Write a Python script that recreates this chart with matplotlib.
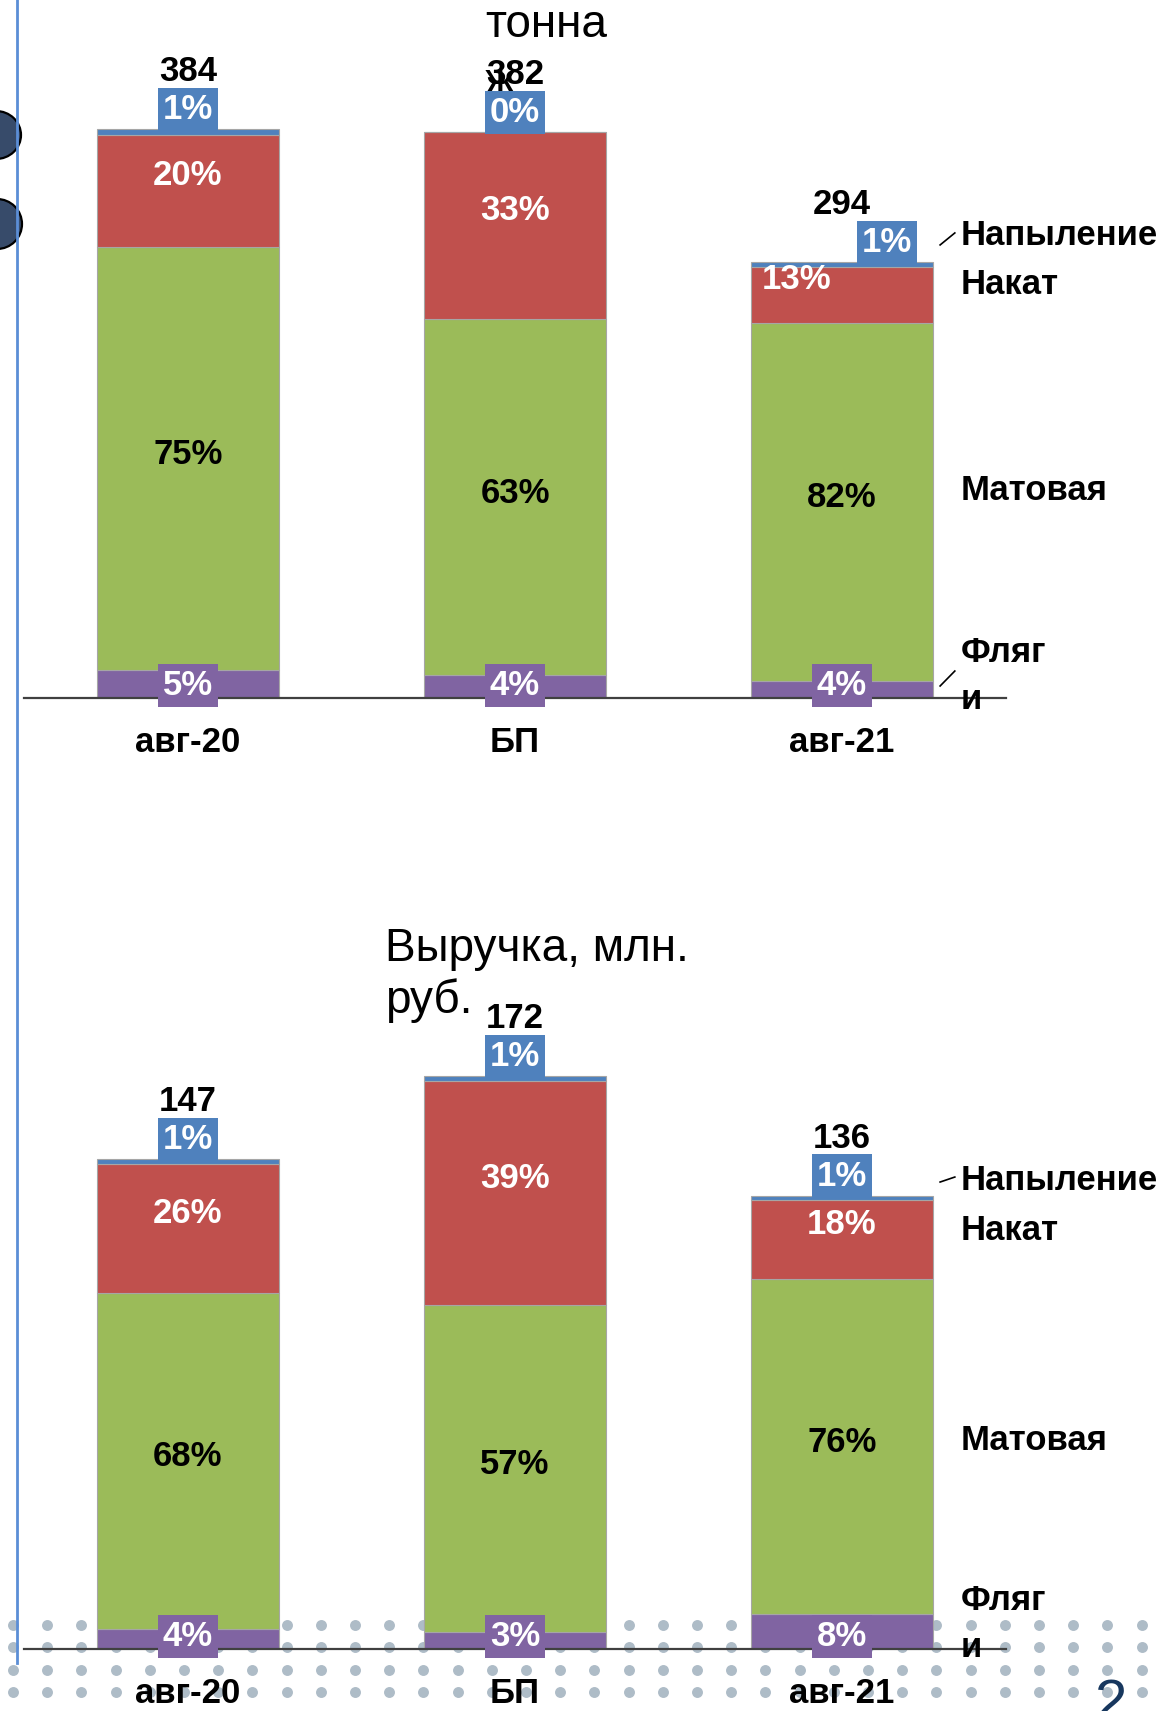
import numpy as np
import matplotlib

matplotlib.use("Agg")
import matplotlib.pyplot as plt
from matplotlib.patches import Ellipse

plt.rcParams['font.family'] = ['Liberation Sans', 'DejaVu Sans']

# data
categories = ["авг-20", "БП", "авг-21"]
series = ["Фляги", "Матовая", "Накат", "Напыление"]  # bottom -> top
colors = ["#8064A2", "#9BBB59", "#C0504D", "#4F81BD"]
label_colors = ["white", "black", "white", "white"]

ton_total = [384, 382, 294]
ton_flyagi = [5, 4, 4]
ton_matov = [75, 63, 82]
ton_nakat = [20, 33, 13]
ton_napyl = [1, 0, 1]

rev_total = [147, 172, 136]
rev_flyagi = [4, 3, 8]
rev_matov = [68, 57, 76]
rev_nakat = [26, 39, 18]
rev_napyl = [1, 1, 1]

W, H = 1156, 1711
FS = 25


def pt(px):
    return px * 72.0 / 100.0


def draw_chart(ax, totals, shares, shift_top=0.0, shift_red=0.0):
    shares = np.array(shares, dtype=float)  # (4, n)
    totals = np.array(totals, dtype=float)
    x = np.arange(len(totals))
    heights = shares / shares.sum(axis=0) * totals
    bottom = np.zeros(len(totals))
    for k in range(len(shares)):
        ax.bar(x, heights[k], 0.557, bottom=bottom, color=colors[k],
               edgecolor="#a6a6a6", linewidth=0.8, zorder=2)
        for i in range(len(x)):
            pct = f"{int(shares[k][i])}%"
            mid = bottom[i] + heights[k][i] / 2
            kw = dict(textcoords="offset points", color=label_colors[k], fontsize=FS,
                      fontweight="bold", zorder=5, ha="center")
            if k == 0:
                ax.annotate(pct, (x[i], 0), xytext=(0, pt(3)), va="baseline",
                            bbox=dict(boxstyle="square,pad=0.15", fc=colors[0], ec="none"),
                            **kw)
            elif k == 1:
                ax.annotate(pct, (x[i], mid), xytext=(0, pt(4)), va="center", **kw)
            elif k == 2:
                dx = shift_red if i == len(x) - 1 else 0
                ax.annotate(pct, (x[i], mid), xytext=(pt(dx), pt(15)), va="center", **kw)
            else:
                dx = shift_top if i == len(x) - 1 else 0
                ax.annotate(pct, (x[i], totals[i]), xytext=(pt(dx), pt(10)), va="baseline",
                            bbox=dict(boxstyle="square,pad=0.15", fc=colors[3], ec="none"),
                            **kw)
        bottom = bottom + heights[k]
    for i in range(len(x)):
        ax.annotate(f"{int(totals[i])}", (x[i], totals[i]), xytext=(0, pt(48)),
                    textcoords="offset points", ha="center", va="baseline",
                    fontsize=FS, fontweight="bold", color="black", zorder=5)
        ax.annotate(categories[i], (x[i], 0), xytext=(0, pt(-54)),
                    textcoords="offset points", ha="center", va="baseline",
                    fontsize=FS, fontweight="bold", color="black", zorder=5)
    ax.plot([-0.5, 2.5], [0, 0], color="#404040", lw=1.6, zorder=3, clip_on=False)
    ax.set_xlim(-0.5749, 2.9602)
    ax.axis("off")
    ax.patch.set_visible(False)


def side_labels(ax, ys, lead1, lead2=None):
    names = ["Напыление", "Накат", "Матовая", "Фляг", "и"]
    for name, y in zip(names, ys):
        ax.text(2.364, y, name, ha="left", va="center", fontsize=FS,
                fontweight="bold", color="black", zorder=5, clip_on=False)
    ax.plot(lead1[0], lead1[1], color="black", lw=1.2, clip_on=False, zorder=5)
    if lead2 is not None:
        ax.plot(lead2[0], lead2[1], color="black", lw=1.2, clip_on=False, zorder=5)


fig = plt.figure(figsize=(W / 100, H / 100), dpi=100)

# background decoration
bg = fig.add_axes([0, 0, 1, 1], zorder=0)
bg.set_xlim(0, W)
bg.set_ylim(H, 0)
bg.axis("off")
dot_x = np.arange(13, W + 10, 34.2)
for yy in [1625, 1647, 1670, 1692]:
    bg.scatter(dot_x, np.full(len(dot_x), yy), s=62, color="#aebcc7", linewidths=0,
               marker="o")
bg.plot([17, 17], [0, 1663], color="#5B8ED6", lw=2)
bg.add_patch(Ellipse((-4, 135), 50, 48, fc="#374B6A", ec="black", lw=1.6))
bg.add_patch(Ellipse((-3, 224), 50, 50, fc="#374B6A", ec="black", lw=1.6))
bg.text(1094, 1678, "2", ha="left", va="top", fontsize=42, color="#17375E")

# top chart: tonnage
ax1 = fig.add_axes([0, 0.59205, 1, 0.4071], zorder=1)
ax1.set_ylim(0, 470)
draw_chart(ax1, ton_total, [ton_flyagi, ton_matov, ton_nakat, ton_napyl],
           shift_top=45, shift_red=-45)
ax1.text(0.908, 446, "тонна", fontsize=33, va="baseline", ha="left", zorder=4)
ax1.text(0.908, 407, "ж", fontsize=33, va="baseline", ha="left", zorder=4)
side_labels(ax1, [312.4, 278.7, 139.7, 30.4, -0.7],
            ([2.30, 2.345], [305.7, 313.8]), ([2.30, 2.345], [8.1, 18.2]))

# bottom chart: revenue
ax2 = fig.add_axes([0, 0.03624, 1, 0.3896], zorder=1)
ax2.set_ylim(0, 200)
draw_chart(ax2, rev_total, [rev_flyagi, rev_matov, rev_nakat, rev_napyl])
ax2.text(0.602, 206.4, "Выручка, млн.", fontsize=33, va="baseline", ha="left",
         zorder=4, clip_on=False)
ax2.text(0.602, 190.8, "руб.", fontsize=33, va="baseline", ha="left", zorder=4)
side_labels(ax2, [140.7, 125.7, 62.7, 14.4, 0.3],
            ([2.30, 2.345], [140.1, 141.6]))

fig.savefig("out.png", dpi=100)
